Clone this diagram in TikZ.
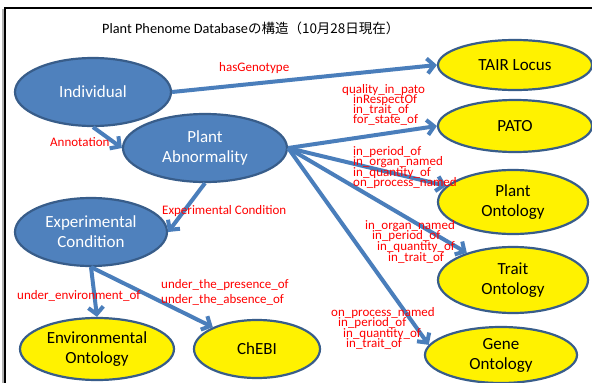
\documentclass[tikz,border=0pt]{standalone}
\usepackage{fontspec}
\setmainfont{Carlito}
\newfontfamily\jpfont{Noto Sans CJK JP}
\usetikzlibrary{arrows.meta,shapes.geometric}
\definecolor{bfill}{HTML}{4F81BD}
\definecolor{bdr}{HTML}{385D8A}
\definecolor{afill}{HTML}{4A7EBB}
\definecolor{lred}{HTML}{FF0000}
\tikzset{
  ell/.style={ellipse, draw=bdr, line width=2.2pt, align=center, inner sep=0pt,
    font=\fontsize{17}{20}\selectfont},
  bell/.style={ell, fill=bfill, text=white},
  yell/.style={ell, fill=yellow, text=black},
  conn/.style={draw=afill, line width=4pt, -{Straight Barb[length=7pt,width=15pt]}},
  lab/.style={text=lred, font=\fontsize{13}{13}\selectfont, inner sep=0pt, anchor=base west},
}
\begin{document}
\begin{tikzpicture}[x=1pt,y=-1pt]
\useasboundingbox (0,0) rectangle (592,383);
\clip (0,0) rectangle (592,383);
\fill[white] (0,0) rectangle (592,383);
% frame
\draw[gray!60, line width=1.5pt] (3,400) -- (3,9);
\draw[black, line width=2.5pt] (5,400) -- (5,8) -- (600,8);
% title
\node[anchor=base west, inner sep=0pt, font=\fontsize{14.3}{16}\selectfont] (title) at (102,33)
  {Plant Phenome Database\jpfont\fontsize{13.5}{16}\selectfont の構造（10月28日現在）};
% blue nodes
\node[bell, minimum width=156pt, minimum height=68pt] (ind) at (93,92) {Individual};
\node[bell, minimum width=164pt, minimum height=68pt] (pa) at (205,148) {Plant\\Abnormality};
\node[bell, minimum width=152pt, minimum height=68pt] (ec) at (91,232) {Experimental\\Condition};
% yellow nodes
\node[yell, minimum width=154pt, minimum height=50pt] (tair) at (515,65) {TAIR Locus};
\node[yell, minimum width=154pt, minimum height=52pt] (pato) at (515,126) {PATO};
\node[yell, minimum width=150pt, minimum height=64pt] (po) at (513,202) {Plant\\Ontology};
\node[yell, minimum width=150pt, minimum height=66pt] (trait) at (513,280) {Trait\\Ontology};
\node[yell, minimum width=152pt, minimum height=56pt] (gene) at (501,355) {Gene\\Ontology};
\node[yell, minimum width=154pt, minimum height=62pt] (env) at (97,349) {Environmental\\Ontology};
\node[yell, minimum width=126pt, minimum height=58pt] (chebi) at (257,349) {ChEBI};
% connectors
\draw[conn] (ind.east) -- (tair.west);
\draw[conn] (ind.south) -- (pa.west);
\draw[conn] (pa.south) -- (ec.east);
\draw[conn] (pa.east) -- (pato.west);
\draw[conn] (pa.east) -- (po);
\draw[conn] (pa.east) -- (trait);
\draw[conn] (pa.east) -- (gene.172);
\draw[conn] (ec.south) -- (env.north);
\draw[conn] (ec.south) -- (chebi);
% labels
\node[lab] (l1) at (219,71) {hasGenotype};
\node[lab] (l2) at (50,146) {Annotation};
\node[lab] (l3) at (162,214) {Experimental Condition};
\node[lab] (q1) at (342,93) {quality\_in\_pato};
\node[lab] (q2) at (353,103) {inRespectOf};
\node[lab] (q3) at (353,113) {in\_trait\_of};
\node[lab] (q4) at (353,123.5) {for\_state\_of};
\node[lab] (p1) at (353,155) {in\_period\_of};
\node[lab] (p2) at (353,165) {in\_organ\_named};
\node[lab] (p3) at (353,176) {in\_quantity\_of};
\node[lab] (p4) at (353,186) {on\_process\_named};
\node[lab] (t1) at (365,229) {in\_organ\_named};
\node[lab] (t2) at (372,239) {in\_period\_of};
\node[lab] (t3) at (377,250) {in\_quantity\_of};
\node[lab] (t4) at (388,261) {in\_trait\_of};
\node[lab] (g1) at (331,316) {on\_process\_named};
\node[lab] (g2) at (338,326) {in\_period\_of};
\node[lab] (g3) at (343,337) {in\_quantity\_of};
\node[lab] (g4) at (346,347) {in\_trait\_of};
\node[lab] (e1) at (17,299) {under\_environment\_of};
\node[lab] (c1) at (161,288) {under\_the\_presence\_of};
\node[lab] (c2) at (161,303) {under\_the\_absence\_of};
\end{tikzpicture}
\end{document}
